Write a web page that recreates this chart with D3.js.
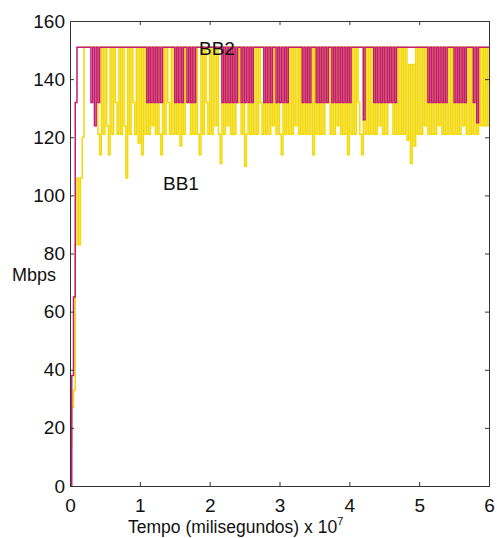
<!DOCTYPE html>
<html><head><meta charset="utf-8">
<script src="https://cdn.jsdelivr.net/npm/d3@7"></script>
<style>
body{margin:0;background:#fff;}
text{font-family:"Liberation Sans",Arial,Helvetica,sans-serif;fill:#111;}
</style>
</head><body>
<svg id="chart" width="497" height="538"></svg>
<script>
// time between samples, in units of 10^7 ms
const sampleStep = 0.025;

// BB1 (yellow) throughput samples, Mbps
const bb1 = [
  14, 27, 33, 83, 106, 83, 106, 120, 151, 151,
  151, 151, 151, 151, 151, 151, 121, 114, 151, 121,
  151, 124, 114, 151, 121, 151, 132, 121, 151, 121,
  151, 124, 106, 151, 121, 151, 132, 121, 151, 118,
  151, 114, 151, 121,
  151, 121, 151, 124, 151, 121, 151, 121, 114, 151,
  121, 151, 132, 121, 151, 121,
  151, 121, 151, 117, 151, 121, 151, 132, 151, 121, 151, 121, 151,
  121, 114, 151, 121, 151, 132, 121, 151, 121, 151, 124, 151, 121, 111,
  151, 121, 151, 124, 151, 121, 151, 121, 151, 132, 151, 121, 151, 110, 121, 151, 121, 151,
  121, 151, 121, 151, 132, 121,
  151, 121, 151, 121, 151, 124, 151, 121, 151, 121, 114, 151, 121, 151,
  121, 151, 121, 151, 124, 151, 121,
  151, 121, 151, 121, 151, 121,
  151, 114, 151,
  121, 151, 121, 151, 121, 151, 132, 151, 121, 151, 121, 151, 124, 151, 121, 151, 121, 151, 114, 151,
  121, 151, 121, 151, 132, 121, 114, 151, 121, 151, 121, 151, 121,
  151, 121, 151, 124, 151, 121, 151, 121, 151, 132, 151, 121, 151, 121,
  151, 121, 151, 121, 151, 119, 145, 111, 145, 117, 151, 121, 151, 121, 151, 124, 151,
  121, 151, 121, 151, 121, 151, 124, 151, 121, 151, 121, 151,
  121, 151, 121,
  151, 121, 151, 121, 151, 124, 151, 121,
  151, 121, 151,
  121, 151, 121, 151,
  124, 151, 124, 151, 124, 151
];

// BB2 (magenta) throughput samples, Mbps
const bb2 = [
  0, 38, 65, 132, 151,
  151, 151, 151, 151, 151, 151, 151,
  132, 151, 124, 151, 132, 151,
  151, 151, 151, 151, 151, 151, 151, 151, 151, 151, 151, 151, 151,
  151, 151, 151, 151, 151, 151, 151, 151, 151, 151, 151, 151, 151,
  132, 151, 132, 151, 132, 151, 132, 151, 132, 151,
  151, 151, 151, 151, 151, 151,
  132, 151, 132, 151, 132, 151, 151, 132, 151, 132, 151, 132, 151,
  151, 151, 151, 151, 151, 151, 151, 151, 151, 151, 151, 151, 151, 151,
  132, 151, 132, 151, 132, 151, 132, 151, 132, 151, 151, 132, 151, 132, 151, 132, 151, 132,
  151, 151, 151, 151, 151, 151,
  132, 151, 132, 151, 132, 151, 151, 132, 151, 132, 151, 132, 151, 132,
  151, 151, 151, 151, 151, 151, 151,
  151, 132, 151, 132, 151, 132,
  151, 151, 151,
  132, 151, 132, 151, 132, 151, 132, 151, 151, 132, 151, 132, 151, 132, 151, 132, 151, 132, 151, 132,
  151, 151, 151, 151, 151, 151, 151, 126, 151, 151, 151, 151, 151,
  132, 151, 132, 151, 132, 151, 132, 151, 132, 151, 132, 151, 132, 151,
  151, 151, 151, 151, 151, 151, 151, 151, 151, 151, 151, 151, 151, 151, 151, 151, 151,
  132, 151, 132, 151, 132, 151, 132, 151, 132, 151, 132, 151,
  151, 151, 151,
  132, 151, 132, 151, 132, 151, 132, 151,
  151, 151, 151,
  132, 151, 125, 151,
  151, 151, 151, 151, 151, 151
];

const xTicks = [0, 1, 2, 3, 4, 5, 6];
const yTicks = [0, 20, 40, 60, 80, 100, 120, 140, 160];
const seriesNames = ["BB1", "BB2"];
const seriesColors = ["#f3d90a", "#c41c76"];

const svg = d3.select("#chart");
const x = d3.scaleLinear().domain([0, 6]).range([70, 489]);
const y = d3.scaleLinear().domain([0, 160]).range([486, 21]);

svg.append("defs").append("clipPath").attr("id", "plot")
  .append("rect").attr("x", x(0)).attr("y", y(160))
  .attr("width", x(6) - x(0)).attr("height", y(0) - y(160));

const line = d3.line()
  .x((d, i) => x(Math.min(6, i * sampleStep)))
  .y(d => y(d))
  .curve(d3.curveStepAfter);

const plotG = svg.append("g").attr("clip-path", "url(#plot)");
[bb1, bb2].forEach((s, k) => {
  plotG.append("path").datum(s)
    .attr("d", line)
    .attr("fill", "none")
    .attr("stroke", seriesColors[k])
    .attr("stroke-width", 1.5);
});

const axisColor = "#333";
const fs = "19px";
const axG = svg.append("g");
const axLeft = axG.append("g").attr("transform", `translate(${x(0)},0)`)
  .call(d3.axisLeft(y).tickValues(yTicks).tickSize(-4).tickPadding(5));
const axBottom = axG.append("g").attr("transform", `translate(0,${y(0)})`)
  .call(d3.axisBottom(x).tickValues(xTicks).tickFormat(d3.format("d")).tickSize(-4).tickPadding(13));
const axTop = axG.append("g").attr("transform", `translate(0,${y(160)})`)
  .call(d3.axisTop(x).tickValues(xTicks).tickSize(-4).tickFormat(""));
const axRight = axG.append("g").attr("transform", `translate(${x(6)},0)`)
  .call(d3.axisRight(y).tickValues(yTicks).tickSize(-4).tickFormat(""));
[axLeft, axBottom, axTop, axRight].forEach(a => {
  a.select(".domain").attr("stroke", axisColor);
  a.selectAll(".tick line").attr("stroke", axisColor);
  a.selectAll("text").style("font-size", fs).attr("fill", "#111")
    .style("font-family", '"Liberation Sans",Arial,sans-serif');
});

svg.append("text").attr("x", 12).attr("y", 281).style("font-size", "18px").text("Mbps");
const xl = svg.append("text").attr("x", 128).attr("y", 533).style("font-size", "17.5px");
xl.append("tspan").text("Tempo (milisegundos) x 10");
xl.append("tspan").attr("dy", -8).style("font-size", "11px").text("7");

svg.append("text").attr("x", 199).attr("y", 55).style("font-size", "19px").text(seriesNames[1]);
svg.append("text").attr("x", 163).attr("y", 190).style("font-size", "19px").text(seriesNames[0]);
</script>
</body></html>
